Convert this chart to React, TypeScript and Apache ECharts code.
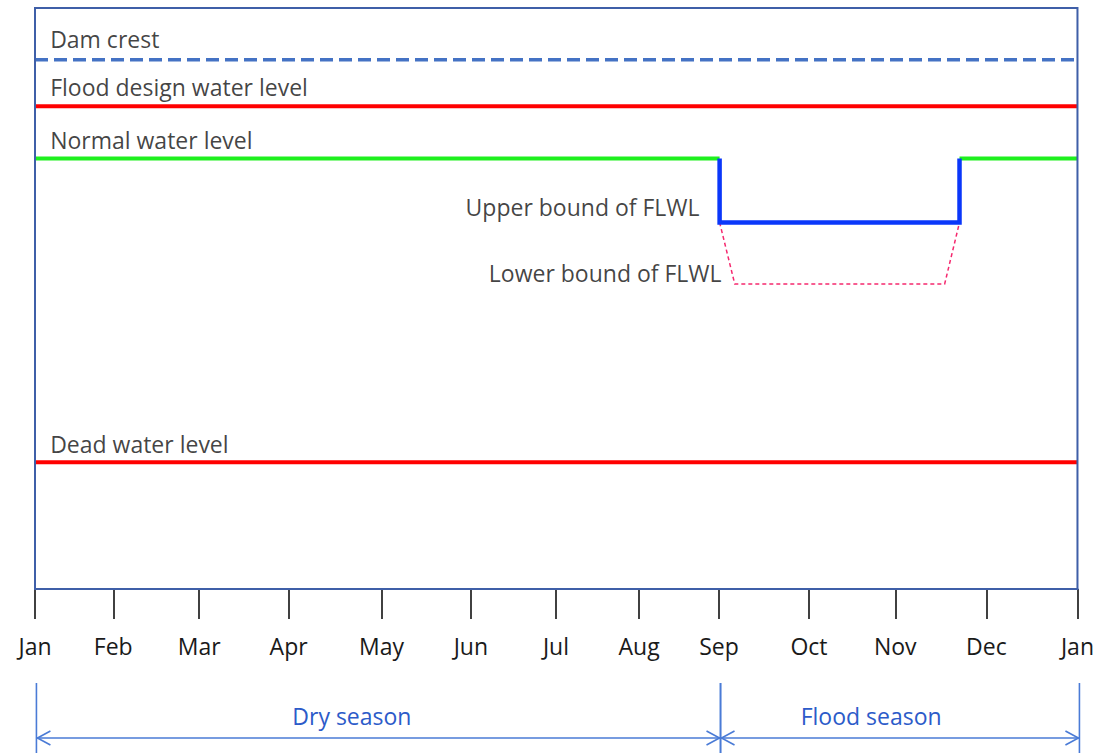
import React, { useEffect, useRef } from "react";
import * as echarts from "echarts";

// Month ticks (position along the year)
const monthLabels = ["Jan", "Feb", "Mar", "Apr", "May", "Jun", "Jul", "Aug", "Sep", "Oct", "Nov", "Dec", "Jan"];
const monthTicks = [0, 27.4, 57.5, 88.8, 121.3, 152.6, 182.4, 211.5, 239.5, 271, 301.2, 333.1, 365];

// Water levels (relative units 0..100)
const damCrest = [[0, 91.1], [365, 91.1]];
const floodDesign = [[0, 83.1], [365, 83.1]];
const normalBefore = [[0, 74.1], [239.7, 74.1]];
const normalAfter = [[323.7, 74.1], [365, 74.1]];
const upperBound = [[239.7, 74.1], [239.7, 63.1], [323.7, 63.1], [323.7, 74.1]];
const lowerBound = [[239.7, 63.1], [245, 52.5], [318.5, 52.5], [323.7, 63.1]];
const deadLevel = [[0, 21.8], [365, 21.8]];

// Text annotations: [x, y, text, side]
const levelLabels: [number, number, string, string][] = [
  [5.3, 94.6, "Dam crest", "right"],
  [5.3, 86.4, "Flood design water level", "right"],
  [5.3, 77.3, "Normal water level", "right"],
  [232.7, 65.7, "Upper bound of FLWL", "left"],
  [240.4, 54.4, "Lower bound of FLWL", "left"],
  [5.3, 24.9, "Dead water level", "right"],
];

// Seasons: [start, end, label x]
const seasonNames = ["Dry season", "Flood season"];
const seasonSpans = [[0.5, 239.9, 110.9], [239.9, 365.5, 292.6]];

const FONT = "Open Sans";
const FS = 23;

export default function App() {
  const ref = useRef<HTMLDivElement>(null);
  useEffect(() => {
    if (!ref.current) return;
    const chart = echarts.init(ref.current, undefined, { renderer: "svg" });
    const lineSeries = (data: number[][], color: string, width: number, type: any = "solid", z = 3) => ({
      type: "line",
      xAxisIndex: 0,
      yAxisIndex: 0,
      data,
      symbol: "none",
      silent: true,
      z,
      lineStyle: { color, width, type, cap: "butt", join: "miter" },
    });
    chart.setOption({
      animation: false,
      backgroundColor: "#ffffff",
      grid: [
        {
          left: 35,
          right: 19,
          top: 8,
          bottom: 164,
          show: true,
          borderColor: "#3F5FA8",
          borderWidth: 2,
          backgroundColor: "transparent",
          z: 5,
        },
        { left: 35, right: 19, top: 680, height: 73 },
      ],
      xAxis: [
        {
          type: "value",
          gridIndex: 0,
          min: 0,
          max: 365,
          splitLine: { show: false },
          axisLine: { show: true, lineStyle: { color: "#3F5FA8", width: 2 } },
          axisTick: {
            show: true,
            customValues: monthTicks,
            length: 30,
            lineStyle: { color: "#111", width: 1.6 },
          },
          axisLabel: {
            show: true,
            customValues: monthTicks,
            margin: 45,
            fontFamily: FONT,
            fontSize: FS,
            color: "#1a1a1a",
            formatter: (v: number) => {
              const i = monthTicks.findIndex((t) => Math.abs(t - v) < 0.01);
              return i >= 0 ? monthLabels[i] : "";
            },
          },
        },
        { type: "value", gridIndex: 1, min: 0, max: 365, show: false },
      ],
      yAxis: [
        { type: "value", gridIndex: 0, min: 0, max: 100, show: false },
        { type: "value", gridIndex: 1, min: 0, max: 73, show: false },
      ],
      series: [
        lineSeries(damCrest, "#4472C4", 3.5, [13, 6]),
        lineSeries(floodDesign, "#FF0000", 4),
        lineSeries(normalBefore, "#1EF01E", 4),
        lineSeries(normalAfter, "#1EF01E", 4),
        lineSeries(lowerBound, "#F5286E", 1.5, [4, 3]),
        lineSeries(upperBound, "#0A37FA", 4.5, "solid", 4),
        lineSeries(deadLevel, "#FF0000", 4),
        {
          type: "scatter",
          xAxisIndex: 0,
          yAxisIndex: 0,
          silent: true,
          symbolSize: 0,
          z: 6,
          data: levelLabels.map((d) => ({
            value: [d[0], d[1]],
            label: {
              show: true,
              position: d[3],
              distance: 0,
              formatter: d[2],
              fontFamily: FONT,
              fontSize: FS,
              color: "#111",
            },
          })),
        },
        {
          type: "custom",
          xAxisIndex: 1,
          yAxisIndex: 1,
          silent: true,
          clip: false,
          data: seasonSpans,
          encode: { x: [0, 1] },
          renderItem: (params: any, api: any) => {
            const i = params.dataIndex;
            const s = api.coord([api.value(0), 15]);
            const e = api.coord([api.value(1), 15]);
            const topS = api.coord([api.value(0), 70]);
            const botS = api.coord([api.value(0), 0]);
            const topE = api.coord([api.value(1), 70]);
            const mid = api.coord([api.value(2), 37]);
            const stroke = { stroke: "#4A7BD6", lineWidth: 1.6, fill: null };
            return {
              type: "group",
              children: [
                { type: "line", shape: { x1: topS[0], y1: topS[1], x2: botS[0], y2: botS[1] }, style: stroke },
                { type: "line", shape: { x1: topE[0], y1: topE[1], x2: e[0], y2: botS[1] }, style: stroke },
                { type: "line", shape: { x1: s[0], y1: s[1], x2: e[0], y2: e[1] }, style: stroke },
                {
                  type: "polyline",
                  shape: { points: [[s[0] + 14, s[1] - 7], [s[0] + 1, s[1]], [s[0] + 14, s[1] + 7]] },
                  style: stroke,
                },
                {
                  type: "polyline",
                  shape: { points: [[e[0] - 14, e[1] - 7], [e[0] - 1, e[1]], [e[0] - 14, e[1] + 7]] },
                  style: stroke,
                },
                {
                  type: "text",
                  x: mid[0],
                  y: mid[1],
                  style: {
                    text: seasonNames[i],
                    fill: "#2C5BC9",
                    fontFamily: FONT,
                    fontSize: FS,
                    align: "center",
                    verticalAlign: "middle",
                  },
                },
              ],
            };
          },
        },
      ],
    });
    return () => chart.dispose();
  }, []);
  return <div ref={ref} style={{ width: 1097, height: 753, position: "absolute", left: 0, top: 0 }} />;
}
